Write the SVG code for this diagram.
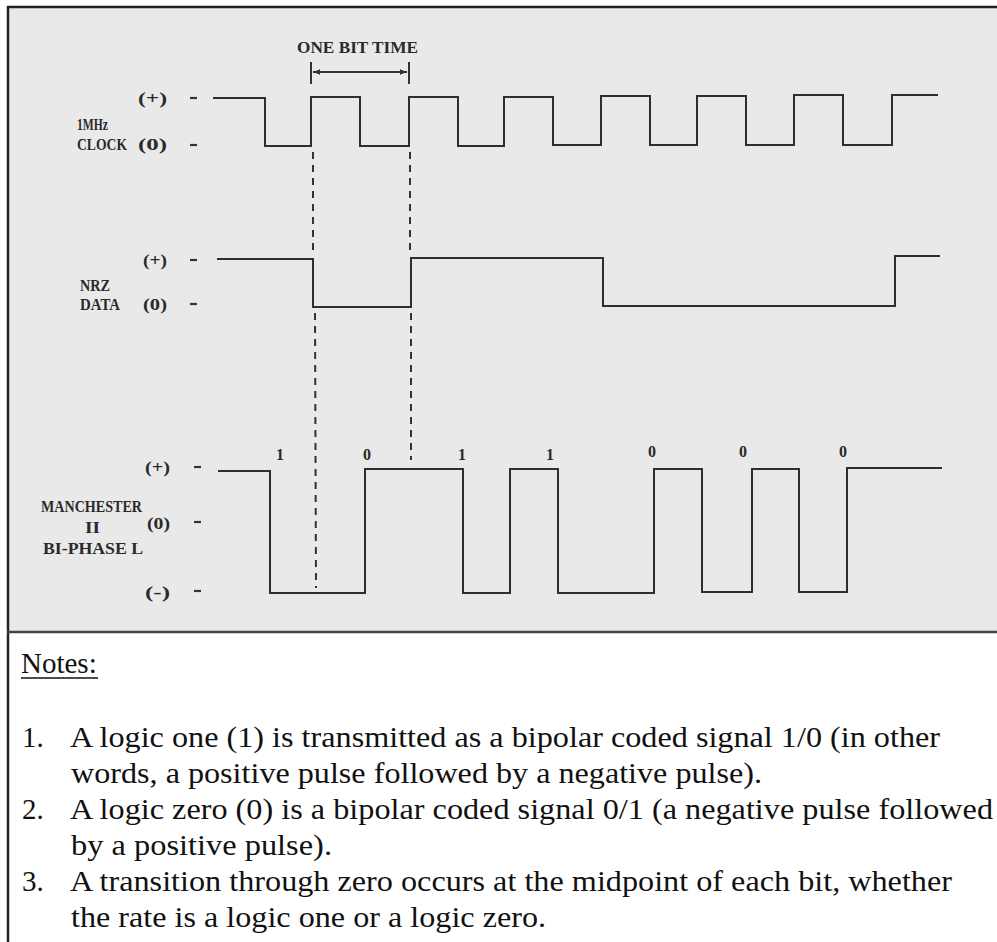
<svg xmlns="http://www.w3.org/2000/svg" width="997" height="942" viewBox="0 0 997 942">
<defs>
<style>
.wave{fill:none;stroke:#2e2e2e;stroke-width:2;stroke-linejoin:miter}
.dash{fill:none;stroke:#333;stroke-width:2;stroke-dasharray:7 6}
.lbl{font-family:"Liberation Serif","Times New Roman",serif;font-weight:bold;font-size:17px;fill:#2a2a2a}
.bit{font-family:"Liberation Serif","Times New Roman",serif;font-weight:bold;font-size:16px;fill:#2a2a2a}
.tick{stroke:#333;stroke-width:2.2}
.note{font-family:"Liberation Serif","Times New Roman",serif;font-size:29px;fill:#111}
.frame{stroke:#222;stroke-width:2.5;fill:none}
</style>
<marker id="ah" viewBox="0 0 10 10" refX="10" refY="5" markerWidth="9" markerHeight="7" markerUnits="userSpaceOnUse" orient="auto-start-reverse">
<path d="M0,1 L10,5 L0,9 Z" fill="#333"/>
</marker>
</defs>
<rect x="0" y="0" width="997" height="942" fill="#ffffff"/>
<rect x="8" y="7" width="989" height="625" fill="#e9e9e9"/>
<g id="frame">
<line class="frame" x1="7" y1="7" x2="997" y2="7"/>
<line class="frame" x1="8" y1="6" x2="8" y2="942"/>
<line x1="7" y1="632" x2="997" y2="632" stroke="#444" stroke-width="2.5"/>
</g>
<g id="clock">
<path class="wave" d="M213,98 H265 V146 H311 V97 H360 V146 H409 V97 H458 V146 H504 V97 H553 V145 H601 V96 H650 V145 H697 V96 H746 V145 H794 V95 H843 V145 H892 V95 H938"/>
<text class="lbl" x="138" y="104" textLength="29" lengthAdjust="spacingAndGlyphs">(+)</text>
<line class="tick" x1="190" y1="98" x2="197" y2="98"/>
<text class="lbl" x="77" y="130" textLength="31" lengthAdjust="spacingAndGlyphs">1MHz</text>
<text class="lbl" x="77" y="150" textLength="50" lengthAdjust="spacingAndGlyphs">CLOCK</text>
<text class="lbl" x="138" y="150" textLength="29" lengthAdjust="spacingAndGlyphs">(0)</text>
<line class="tick" x1="190" y1="145" x2="197" y2="145"/>
</g>
<g id="nrz">
<path class="wave" d="M217,259 H313 V307 H411 V258 H603 V306 H895 V256 H940"/>
<text class="lbl" x="143" y="266" textLength="24" lengthAdjust="spacingAndGlyphs">(+)</text>
<line class="tick" x1="190" y1="260" x2="197" y2="260"/>
<text class="lbl" x="80" y="291" textLength="30" lengthAdjust="spacingAndGlyphs">NRZ</text>
<text class="lbl" x="80" y="310" textLength="40" lengthAdjust="spacingAndGlyphs">DATA</text>
<text class="lbl" x="143" y="310" textLength="24" lengthAdjust="spacingAndGlyphs">(0)</text>
<line class="tick" x1="190" y1="304" x2="197" y2="304"/>
</g>
<g id="manchester">
<path class="wave" d="M218,471 H270 V593 H365 V469 H463 V593 H510 V469 H558 V593 H654 V469 H702 V592 H752 V469 H799 V592 H847 V468 H942"/>
<text class="lbl" x="145" y="473" textLength="25" lengthAdjust="spacingAndGlyphs">(+)</text>
<line class="tick" x1="194" y1="467" x2="201" y2="467"/>
<text class="lbl" x="41" y="512" textLength="101" lengthAdjust="spacingAndGlyphs">MANCHESTER</text>
<text class="lbl" x="85" y="533" textLength="15" lengthAdjust="spacingAndGlyphs">II</text>
<text class="lbl" x="43" y="554" textLength="100" lengthAdjust="spacingAndGlyphs">BI-PHASE L</text>
<text class="lbl" x="147" y="529" textLength="23" lengthAdjust="spacingAndGlyphs">(0)</text>
<line class="tick" x1="194" y1="522" x2="201" y2="522"/>
<text class="lbl" x="145" y="598" textLength="25" lengthAdjust="spacingAndGlyphs">(-)</text>
<line class="tick" x1="194" y1="591" x2="201" y2="591"/>
<text class="bit" x="280" y="460" text-anchor="middle">1</text>
<text class="bit" x="367" y="460" text-anchor="middle">0</text>
<text class="bit" x="462" y="460" text-anchor="middle">1</text>
<text class="bit" x="550" y="460" text-anchor="middle">1</text>
<text class="bit" x="652" y="457" text-anchor="middle">0</text>
<text class="bit" x="743" y="457" text-anchor="middle">0</text>
<text class="bit" x="843" y="457" text-anchor="middle">0</text>
</g>
<g id="connectors">
<line class="dash" x1="313" y1="152" x2="313" y2="256"/>
<line class="dash" x1="315" y1="313" x2="316" y2="588"/>
<line class="dash" x1="410" y1="152" x2="410" y2="256"/>
<line class="dash" x1="411" y1="313" x2="411" y2="460"/>
<line x1="311" y1="62" x2="311" y2="84" stroke="#333" stroke-width="2"/>
<line x1="409" y1="62" x2="409" y2="84" stroke="#333" stroke-width="2"/>
<line x1="313" y1="72" x2="407" y2="72" stroke="#333" stroke-width="1.8" marker-start="url(#ah)" marker-end="url(#ah)"/>
</g>
<g id="one-bit-time">
<text class="lbl" x="297" y="53" textLength="121" lengthAdjust="spacingAndGlyphs">ONE BIT TIME</text>
</g>
<g id="notes">
<text class="note" x="21" y="673">Notes:</text>
<line x1="21" y1="678" x2="98" y2="678" stroke="#111" stroke-width="1.5"/>
<text class="note" x="22" y="747">1.</text>
<text class="note" x="70" y="747" textLength="870" lengthAdjust="spacingAndGlyphs">A logic one (1) is transmitted as a bipolar coded signal 1/0 (in other</text>
<text class="note" x="71" y="783" textLength="691" lengthAdjust="spacingAndGlyphs">words, a positive pulse followed by a negative pulse).</text>
<text class="note" x="22" y="819">2.</text>
<text class="note" x="70" y="819" textLength="923" lengthAdjust="spacingAndGlyphs">A logic zero (0) is a bipolar coded signal 0/1 (a negative pulse followed</text>
<text class="note" x="71" y="855" textLength="261" lengthAdjust="spacingAndGlyphs">by a positive pulse).</text>
<text class="note" x="22" y="891">3.</text>
<text class="note" x="70" y="891" textLength="882" lengthAdjust="spacingAndGlyphs">A transition through zero occurs at the midpoint of each bit, whether</text>
<text class="note" x="71" y="927" textLength="475" lengthAdjust="spacingAndGlyphs">the rate is a logic one or a logic zero.</text>
</g>
</svg>
